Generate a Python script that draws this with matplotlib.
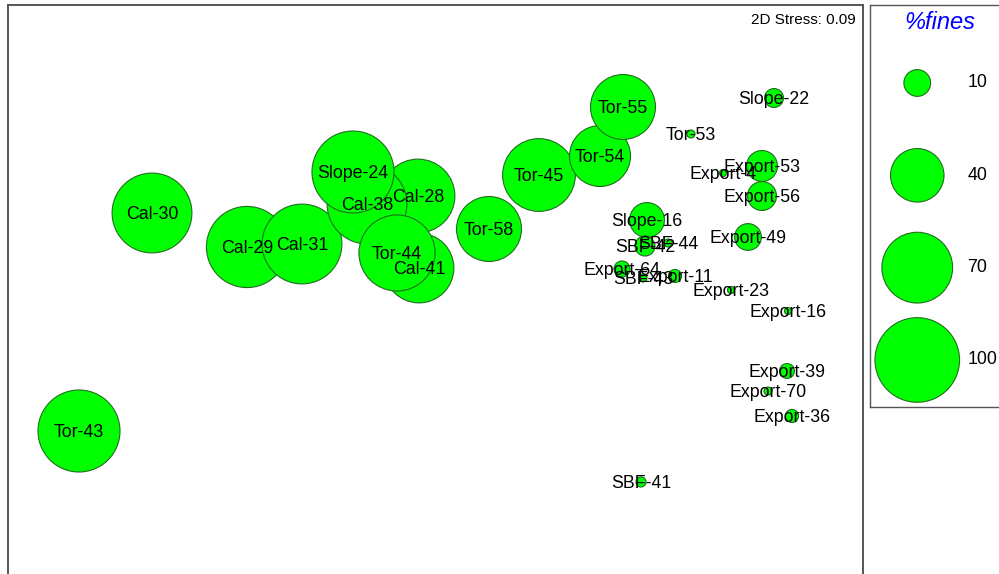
import numpy as np
import matplotlib
matplotlib.use("Agg")
import matplotlib.pyplot as plt
from matplotlib.transforms import offset_copy

plt.rcParams['font.family'] = ['Liberation Sans', 'DejaVu Sans']

# MDS ordination of samples, bubble size = % fines
labels = ['Tor-43', 'Cal-30', 'Cal-29', 'Cal-31', 'Cal-28', 'Cal-38', 'Slope-24',
          'Cal-41', 'Tor-44', 'Tor-58', 'Tor-45', 'Tor-54', 'Tor-55', 'Tor-53',
          'Slope-22', 'Export-53', 'Export-4', 'Export-56', 'Export-49', 'Slope-16',
          'SBF-42', 'SBF-44', 'Export-64', 'SBF-43', 'Export-11', 'Export-23',
          'Export-16', 'Export-39', 'Export-70', 'Export-36', 'SBF-41']
mds_x = [-4.21, -3.48, -2.53, -1.98, -0.82, -1.33, -1.47,
         -0.81, -1.03, -0.11, 0.39, 1.00, 1.23, 1.91,
         2.74, 2.62, 2.23, 2.62, 2.48, 1.47,
         1.45, 1.68, 1.22, 1.43, 1.75, 2.31,
         2.88, 2.87, 2.68, 2.92, 1.41]
mds_y = [-1.31, 0.87, 0.53, 0.56, 1.04, 0.96, 1.28,
         0.32, 0.47, 0.71, 1.25, 1.44, 1.93, 1.66,
         2.02, 1.34, 1.27, 1.04, 0.63, 0.80,
         0.54, 0.57, 0.31, 0.22, 0.24, 0.10,
         -0.11, -0.71, -0.91, -1.16, -1.82]
fines = [94, 89, 92, 89, 76, 89, 94,
         68, 81, 59, 74, 52, 59, 0.9,
         5.0, 13.4, 0.7, 11.7, 10.0, 17.0,
         5.6, 0.9, 3.6, 0.9, 2.4, 0.7,
         0.7, 3.1, 0.9, 2.4, 1.4]
stress = 0.09
legend_vals = [10, 40, 70, 100]

SIZE = 37.1          # marker area (pt^2) per % fines
FILL = '#00ff00'
EDGE = '#1f6e1f'
FS = 12.8

fig = plt.figure(figsize=(9.99, 5.74), dpi=100)

ax = fig.add_axes([8 / 999, 1 - 600 / 574, 855 / 999, 595 / 574])
ax.scatter(mds_x, mds_y, s=np.array(fines) * SIZE, c=FILL,
           edgecolors=EDGE, linewidths=0.8, zorder=2)
# labels sit on the bubble centre, nudged down a pixel
lab_tr = offset_copy(ax.transData, fig=fig, x=0, y=-1, units='dots')
for lab, x, y in zip(labels, mds_x, mds_y):
    ax.text(x, y, lab, ha='center', va='center', fontsize=FS, zorder=3,
            transform=lab_tr)
ax.set_xlim(-4.92, 3.63)
ax.set_ylim(-3.00, 2.95)
ax.set_xticks([])
ax.set_yticks([])
for sp in ax.spines.values():
    sp.set_color('#555555')
    sp.set_linewidth(1.4)

fig.text(856 / 999, 1 - 20 / 574, '2D Stress: %.2f' % stress,
         ha='right', va='center', fontsize=11)

# size legend
lg = fig.add_axes([870 / 999, 1 - 407 / 574, 135 / 999, 402 / 574])
lg.set_xlim(0, 1)
lg.set_ylim(0, 1)
lg.set_xticks([])
lg.set_yticks([])
for sp in lg.spines.values():
    sp.set_color('#555555')
    sp.set_linewidth(1.0)
ly = np.linspace(0.806, 0.117, len(legend_vals))
lg.scatter([0.35] * len(legend_vals), ly, s=np.array(legend_vals) * SIZE,
           c=FILL, edgecolors=EDGE, linewidths=0.8, clip_on=False)
for v, y in zip(legend_vals, ly):
    lg.text(0.72, y, str(v), ha='left', va='center', fontsize=FS)
lg.text(0.52, 0.957, '%fines', ha='center', va='center', fontsize=17,
        style='italic', color='#0000ff')

fig.savefig('out.png', dpi=100)
